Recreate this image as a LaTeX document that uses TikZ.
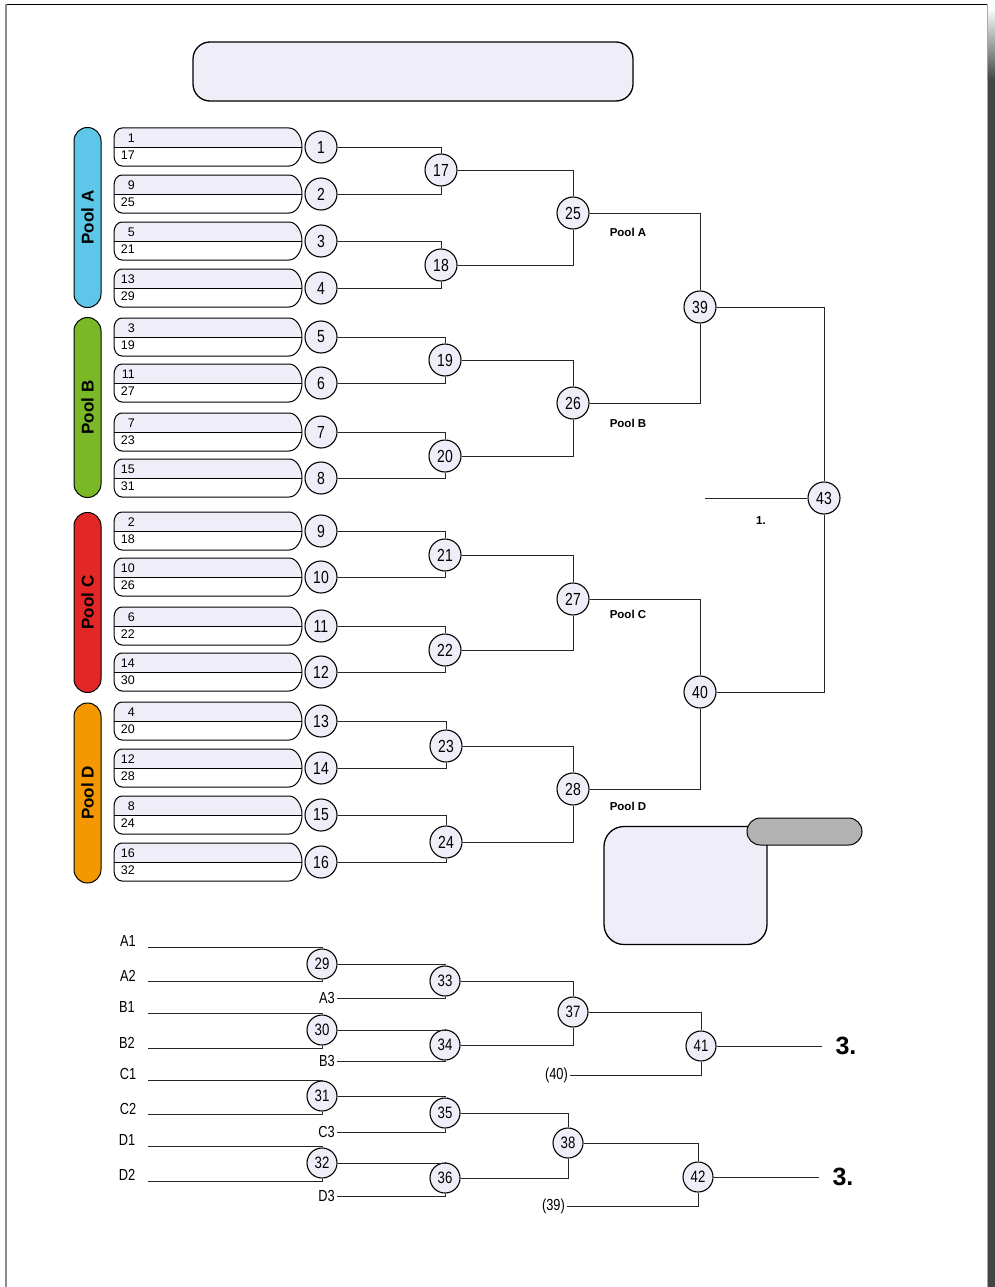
\documentclass[tikz,border=0pt]{standalone}
\usepackage{fontspec}
\setmainfont{Liberation Sans}
\newfontfamily\cond[FakeStretch=0.8]{Liberation Sans}
\newcommand\myfs[1]{\fontsize{#1}{#1}\selectfont}
\definecolor{lav}{HTML}{EFEEF8}
\definecolor{poolA}{HTML}{5EC6E8}
\definecolor{poolB}{HTML}{7AB828}
\definecolor{poolC}{HTML}{E32727}
\definecolor{poolD}{HTML}{F39800}
\definecolor{pageshadow}{HTML}{444444}
\begin{document}
\begin{tikzpicture}[x=1pt,y=-1pt,
  rnd/.style={circle,draw=black,line width=1.1pt,fill=lav,minimum size=32pt,inner sep=0pt,font=\cond\myfs{17.5}},
  rnds/.style={rnd,minimum size=30pt,font=\cond\myfs{16.5}},
  conn/.style={draw=black!85,line width=1pt},
  lbl/.style={font=\cond\myfs{16},inner sep=2pt},
  pl/.style={font=\bfseries\myfs{11.5},inner sep=0pt},
  entnum/.style={font=\myfs{12.5},inner sep=0pt,anchor=east},
  poolbar/.style={draw=black,line width=1pt,rounded corners=13.4pt,minimum width=27pt,inner sep=0pt},
  poollbl/.style={rotate=90,font=\bfseries\myfs{17},inner sep=0pt},
  big/.style={font=\bfseries\myfs{25},inner sep=0pt}]
\useasboundingbox (0,0) rectangle (994,1287);
% page frame
\draw[black,line width=1.3pt] (5,4.5) -- (988,4.5);
\draw[black!45,line width=2pt] (6,4) -- (6,1287);
\draw[black!35,line width=1pt] (987,4) -- (987,1287);
\shade[top color=white,bottom color=pageshadow] (987.8,8) rectangle (995,80);
\fill[pageshadow] (987.8,79.5) rectangle (995,1288);
% title box
\node[draw=black,line width=1.3pt,fill=lav,rounded corners=17pt,minimum width=440pt,minimum height=59pt] (title) at (413,71.5) {};
% pool bars
\node[poolbar,fill=poolA,minimum height=180pt] (barA) at (87.5,217.5) {};
\node[poollbl] (pA) at (barA) {Pool A};
\node[poolbar,fill=poolB,minimum height=180pt] (barB) at (87.5,407.5) {};
\node[poollbl] (pB) at (barB) {Pool B};
\node[poolbar,fill=poolC,minimum height=180pt] (barC) at (87.5,602.5) {};
\node[poollbl] (pC) at (barC) {Pool C};
\node[poolbar,fill=poolD,minimum height=180pt] (barD) at (87.5,793) {};
\node[poollbl] (pD) at (barD) {Pool D};
% entries
\foreach \i/\cy/\tn/\bn in {1/147/1/17,2/194/9/25,3/241/5/21,4/288/13/29,5/337/3/19,6/383/11/27,7/432/7/23,8/478/15/31,9/531/2/18,10/577/10/26,11/626/6/22,12/672/14/30,13/721/4/20,14/768/12/28,15/815/8/24,16/862/16/32}{
  \fill[lav] (114,\cy) -- (114,\cy-9) arc[start angle=180,end angle=270,x radius=8,y radius=10] -- (289,\cy-19) arc[start angle=-90,end angle=0,x radius=13,y radius=19] -- cycle;
  \draw[line width=1pt] (114,\cy-9) arc[start angle=180,end angle=270,x radius=8,y radius=10] -- (289,\cy-19) arc[start angle=-90,end angle=90,x radius=13,y radius=19] -- (122,\cy+19) arc[start angle=90,end angle=180,x radius=8,y radius=10] -- cycle;
  \draw[line width=1pt] (114,\cy) -- (302,\cy);
  \node[entnum] (t\i) at (135,\cy-9) {\tn};
  \node[entnum] (b\i) at (135,\cy+8) {\bn};
  \node[rnd] (c\i) at (321,\cy) {\i};
}
% round 2
\node[rnd] (c17) at (441,170) {17};
\node[rnd] (c18) at (441,265) {18};
\node[rnd] (c19) at (445,360) {19};
\node[rnd] (c20) at (445,456) {20};
\node[rnd] (c21) at (445,555) {21};
\node[rnd] (c22) at (445,650) {22};
\node[rnd] (c23) at (446,746) {23};
\node[rnd] (c24) at (446,842) {24};
% round 3
\node[rnd] (c25) at (573,213) {25};
\node[rnd] (c26) at (573,403) {26};
\node[rnd] (c27) at (573,599) {27};
\node[rnd] (c28) at (573,789) {28};
% round 4 and final
\node[rnd] (c39) at (700,307) {39};
\node[rnd] (c40) at (700,692) {40};
\node[rnd] (c43) at (824,498) {43};
% pool labels
\node[pl] (lA) at (628,232) {Pool A};
\node[pl] (lB) at (628,423) {Pool B};
\node[pl] (lC) at (628,614) {Pool C};
\node[pl] (lD) at (628,806) {Pool D};
\node[pl] (first) at (761,521) {1.};
\coordinate (f43) at (705,498);
% connectors main bracket
\foreach \a/\b in {1/17,3/18,5/19,7/20,9/21,11/22,13/23,15/24,17/25,19/26,21/27,23/28,25/39,27/40,39/43}{
  \draw[conn] (c\a.east) -| (c\b.north);
}
\foreach \a/\b in {2/17,4/18,6/19,8/20,10/21,12/22,14/23,16/24,18/25,20/26,22/27,24/28,26/39,28/40,40/43}{
  \draw[conn] (c\a.east) -| (c\b.south);
}
\draw[conn] (f43) -- (c43.west);
% side boxes
\node[draw=black,line width=1.3pt,fill=lav,rounded corners=20pt,minimum width=163pt,minimum height=118pt] (infobox) at (685.5,885.5) {};
\node[draw=black,line width=1pt,fill=black!30,rounded corners=13.4pt,minimum width=115pt,minimum height=27pt,inner sep=0pt] (pill) at (804.5,831.5) {};
% repechage
\node[lbl] (lA1) at (128,941) {A1};
\node[lbl] (lA2) at (128,976) {A2};
\node[lbl] (lB1) at (127,1007) {B1};
\node[lbl] (lB2) at (127,1043) {B2};
\node[lbl] (lC1) at (128,1074) {C1};
\node[lbl] (lC2) at (128,1109) {C2};
\node[lbl] (lD1) at (127,1140) {D1};
\node[lbl] (lD2) at (127,1175) {D2};
\coordinate (sA1) at (148,947);
\coordinate (sA2) at (148,981);
\coordinate (sB1) at (148,1013);
\coordinate (sB2) at (148,1048);
\coordinate (sC1) at (148,1080);
\coordinate (sC2) at (148,1114);
\coordinate (sD1) at (148,1146);
\coordinate (sD2) at (148,1181);
\node[rnds] (c29) at (322,964) {29};
\node[rnds] (c30) at (322,1030) {30};
\node[rnds] (c31) at (322,1096) {31};
\node[rnds] (c32) at (322,1163) {32};
\node[rnds] (c33) at (445,981) {33};
\node[rnds] (c34) at (445,1045) {34};
\node[rnds] (c35) at (445,1113) {35};
\node[rnds] (c36) at (445,1178) {36};
\node[rnds] (c37) at (573,1012) {37};
\node[rnds] (c38) at (568,1143) {38};
\node[rnds] (c41) at (701,1046) {41};
\node[rnds] (c42) at (698,1177) {42};
\node[lbl,anchor=east] (lA3) at (337,998) {A3};
\node[lbl,anchor=east] (lB3) at (337,1061) {B3};
\node[lbl,anchor=east] (lC3) at (337,1132) {C3};
\node[lbl,anchor=east] (lD3) at (337,1196) {D3};
\node[lbl,anchor=east] (l40) at (570,1075) {(40)};
\node[lbl,anchor=east] (l39) at (567,1206) {(39)};
\coordinate (e41) at (822,1046);
\coordinate (e42) at (819,1177);
\node[big] (third1) at (846,1046) {3.};
\node[big] (third2) at (843,1177) {3.};
\draw[conn] (sA1) -| (c29.north);
\draw[conn] (sA2) -| (c29.south);
\draw[conn] (sB1) -| (c30.north);
\draw[conn] (sB2) -| (c30.south);
\draw[conn] (sC1) -| (c31.north);
\draw[conn] (sC2) -| (c31.south);
\draw[conn] (sD1) -| (c32.north);
\draw[conn] (sD2) -| (c32.south);
\draw[conn] (c29.east) -| (c33.north);
\draw[conn] (lA3.east) -| (c33.south);
\draw[conn] (c30.east) -| (c34.north);
\draw[conn] (lB3.east) -| (c34.south);
\draw[conn] (c31.east) -| (c35.north);
\draw[conn] (lC3.east) -| (c35.south);
\draw[conn] (c32.east) -| (c36.north);
\draw[conn] (lD3.east) -| (c36.south);
\draw[conn] (c33.east) -| (c37.north);
\draw[conn] (c34.east) -| (c37.south);
\draw[conn] (c35.east) -| (c38.north);
\draw[conn] (c36.east) -| (c38.south);
\draw[conn] (c37.east) -| (c41.north);
\draw[conn] (l40.east) -| (c41.south);
\draw[conn] (c38.east) -| (c42.north);
\draw[conn] (l39.east) -| (c42.south);
\draw[conn] (c41.east) -- (e41);
\draw[conn] (c42.east) -- (e42);
\end{tikzpicture}
\end{document}
